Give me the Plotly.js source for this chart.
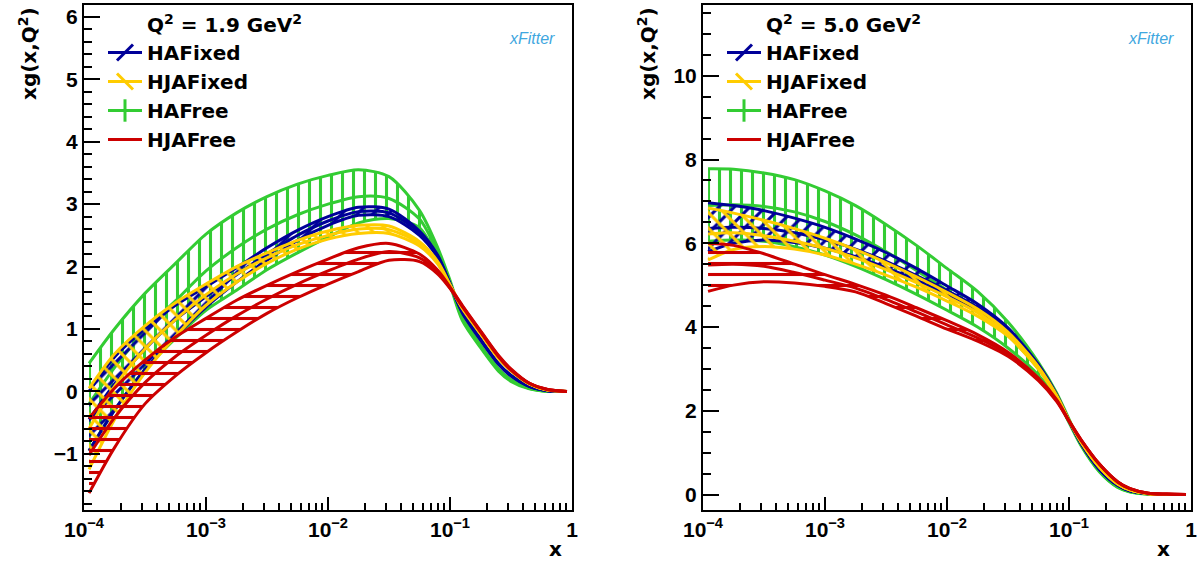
<!DOCTYPE html>
<html><head><meta charset="utf-8">
<script src="https://cdn.plot.ly/plotly-3.0.1.min.js"></script>
<style>html,body{margin:0;padding:0;background:#fff;}#chart{width:1199px;height:561px;}</style>
</head><body><div id="chart"></div>
<script>
// x grid (shared by all curves)
const xGrid = [1.1e-4, 1.78e-4, 3.16e-4, 5.62e-4, 1e-3, 1.78e-3, 3.16e-3, 5.62e-3, 0.01, 0.0178, 0.0316, 0.0562, 0.0794, 0.1, 0.126, 0.178, 0.251, 0.316, 0.447, 0.631, 0.91];

// Q^2 = 1.9 GeV^2
const haFixed19Up  = [0.0, 0.55, 1.0, 1.38, 1.68, 1.98, 2.3, 2.58, 2.8, 2.95, 2.92, 2.57, 2.18, 1.73, 1.28, 0.84, 0.44, 0.26, 0.08, 0.01, 0];
const haFixed19Mid = [-0.45, 0.12, 0.68, 1.15, 1.52, 1.87, 2.2, 2.5, 2.73, 2.88, 2.86, 2.54, 2.16, 1.72, 1.27, 0.83, 0.44, 0.25, 0.08, 0.01, 0];
const haFixed19Lo  = [-0.95, -0.3, 0.35, 0.88, 1.35, 1.75, 2.1, 2.42, 2.66, 2.82, 2.8, 2.5, 2.14, 1.71, 1.26, 0.82, 0.43, 0.25, 0.08, 0.01, 0];
const hjaFixed19Up  = [0.05, 0.6, 1.05, 1.42, 1.72, 2.0, 2.22, 2.42, 2.57, 2.66, 2.65, 2.4, 2.08, 1.71, 1.35, 0.94, 0.54, 0.34, 0.12, 0.02, 0];
const hjaFixed19Mid = [-0.6, 0.08, 0.68, 1.15, 1.55, 1.88, 2.14, 2.35, 2.5, 2.6, 2.59, 2.37, 2.06, 1.7, 1.34, 0.93, 0.53, 0.33, 0.12, 0.02, 0];
const hjaFixed19Lo  = [-1.25, -0.45, 0.3, 0.88, 1.38, 1.75, 2.05, 2.28, 2.44, 2.53, 2.53, 2.33, 2.04, 1.69, 1.33, 0.92, 0.52, 0.33, 0.12, 0.02, 0];
const haFree19Up  = [0.45, 1.0, 1.57, 2.05, 2.52, 2.86, 3.12, 3.32, 3.46, 3.55, 3.44, 2.9, 2.3, 1.78, 1.2, 0.74, 0.36, 0.19, 0.05, 0.01, 0];
const haFree19Mid = [-0.2, 0.38, 0.97, 1.45, 1.93, 2.3, 2.6, 2.83, 3.0, 3.12, 3.09, 2.76, 2.22, 1.74, 1.17, 0.72, 0.34, 0.18, 0.05, 0, 0];
const haFree19Lo  = [-0.95, -0.3, 0.35, 0.85, 1.3, 1.62, 1.95, 2.22, 2.47, 2.7, 2.77, 2.62, 2.14, 1.7, 1.14, 0.7, 0.32, 0.16, 0.04, 0, 0];
const hjaFree19Up  = [-0.43, 0.05, 0.5, 0.87, 1.17, 1.46, 1.7, 1.92, 2.12, 2.3, 2.37, 2.2, 1.94, 1.67, 1.38, 0.97, 0.57, 0.36, 0.13, 0.03, 0];
const hjaFree19Mid = [-1.02, -0.42, 0.14, 0.56, 0.9, 1.21, 1.48, 1.72, 1.93, 2.12, 2.24, 2.14, 1.91, 1.66, 1.37, 0.96, 0.56, 0.35, 0.13, 0.03, 0];
const hjaFree19Lo  = [-1.63, -0.9, -0.2, 0.25, 0.62, 0.95, 1.25, 1.5, 1.72, 1.92, 2.1, 2.08, 1.88, 1.65, 1.36, 0.95, 0.55, 0.34, 0.13, 0.03, 0];

// Q^2 = 5.0 GeV^2
const haFixed50Up  = [6.97, 6.9, 6.78, 6.6, 6.38, 6.1, 5.78, 5.4, 4.98, 4.55, 3.98, 3.1, 2.38, 1.77, 1.22, 0.6, 0.22, 0.09, 0.02, 0, 0];
const haFixed50Mid = [6.35, 6.38, 6.35, 6.25, 6.08, 5.86, 5.57, 5.23, 4.87, 4.47, 3.93, 3.07, 2.36, 1.76, 1.22, 0.6, 0.22, 0.09, 0.02, 0, 0];
const haFixed50Lo  = [5.8, 6.0, 6.08, 6.02, 5.88, 5.68, 5.42, 5.12, 4.77, 4.4, 3.88, 3.04, 2.34, 1.75, 1.21, 0.6, 0.22, 0.09, 0.02, 0, 0];
const hjaFixed50Up  = [6.84, 6.72, 6.55, 6.35, 6.12, 5.85, 5.54, 5.2, 4.83, 4.43, 3.88, 3.05, 2.36, 1.77, 1.25, 0.65, 0.25, 0.11, 0.02, 0, 0];
const hjaFixed50Mid = [6.22, 6.25, 6.18, 6.05, 5.88, 5.65, 5.37, 5.06, 4.72, 4.34, 3.83, 3.02, 2.34, 1.77, 1.25, 0.65, 0.25, 0.11, 0.02, 0, 0];
const hjaFixed50Lo  = [5.6, 5.85, 5.92, 5.86, 5.72, 5.5, 5.24, 4.95, 4.62, 4.26, 3.78, 2.99, 2.32, 1.76, 1.25, 0.65, 0.25, 0.11, 0.02, 0, 0];
const haFree50Up  = [7.78, 7.77, 7.68, 7.52, 7.25, 6.9, 6.45, 5.95, 5.4, 4.85, 4.12, 3.15, 2.42, 1.8, 1.2, 0.56, 0.18, 0.07, 0.01, 0, 0];
const haFree50Mid = [6.9, 6.92, 6.88, 6.75, 6.52, 6.2, 5.8, 5.35, 4.88, 4.4, 3.8, 3.0, 2.35, 1.76, 1.18, 0.55, 0.18, 0.07, 0.01, 0, 0];
const haFree50Lo  = [6.05, 6.08, 6.05, 5.92, 5.72, 5.45, 5.13, 4.78, 4.4, 4.0, 3.5, 2.85, 2.28, 1.72, 1.16, 0.54, 0.17, 0.06, 0.01, 0, 0];
const hjaFree50Up  = [6.0, 5.95, 5.75, 5.5, 5.25, 5.02, 4.76, 4.46, 4.15, 3.82, 3.4, 2.78, 2.26, 1.76, 1.3, 0.72, 0.3, 0.14, 0.03, 0.01, 0];
const hjaFree50Mid = [5.48, 5.5, 5.45, 5.3, 5.12, 4.93, 4.66, 4.36, 4.05, 3.74, 3.35, 2.75, 2.24, 1.76, 1.3, 0.72, 0.3, 0.14, 0.03, 0.01, 0];
const hjaFree50Lo  = [4.85, 5.0, 5.08, 5.05, 4.97, 4.84, 4.56, 4.26, 3.95, 3.66, 3.3, 2.72, 2.22, 1.75, 1.29, 0.72, 0.3, 0.14, 0.03, 0.01, 0];

const seriesNames = ['HAFixed', 'HJAFixed', 'HAFree', 'HJAFree'];
const xTickVals = [1e-4, 1e-3, 1e-2, 1e-1, 1];
const xTickText = ['10<sup>\u22124</sup>', '10<sup>\u22123</sup>', '10<sup>\u22122</sup>', '10<sup>\u22121</sup>', '1'];

const colors = {HAFixed: '#000099', HJAFixed: '#ffcc00', HAFree: '#33cc33', HJAFree: '#cc0000'};
const patterns = {HAFixed: '/', HJAFixed: '\\', HAFree: '|', HJAFree: '-'};
const legendSymbols = {HAFixed: 'line-ne', HJAFixed: 'line-nw', HAFree: 'line-ns', HJAFree: null};
const FONT = 'Liberation Sans, Arial, Helvetica, sans-serif';
const WFONT = 'DejaVu Sans, Liberation Sans, sans-serif';

const panels = [
  {xa: 'x', ya: 'y', legend: 'legend', data: {
    HAFree: [haFree19Up, haFree19Mid, haFree19Lo],
    HAFixed: [haFixed19Up, haFixed19Mid, haFixed19Lo],
    HJAFixed: [hjaFixed19Up, hjaFixed19Mid, hjaFixed19Lo],
    HJAFree: [hjaFree19Up, hjaFree19Mid, hjaFree19Lo]}},
  {xa: 'x2', ya: 'y2', legend: 'legend2', data: {
    HAFree: [haFree50Up, haFree50Mid, haFree50Lo],
    HAFixed: [haFixed50Up, haFixed50Mid, haFixed50Lo],
    HJAFixed: [hjaFixed50Up, hjaFixed50Mid, hjaFixed50Lo],
    HJAFree: [hjaFree50Up, hjaFree50Mid, hjaFree50Lo]}}
];

const traces = [];
const drawOrder = ['HAFree', 'HAFixed', 'HJAFixed', 'HJAFree'];
panels.forEach(p => {
  drawOrder.forEach(name => {
    const c = colors[name];
    const [up, mid, lo] = p.data[name];
    const line = {color: c, width: 3, shape: 'spline', smoothing: 0.8};
    traces.push({x: xGrid, y: lo, xaxis: p.xa, yaxis: p.ya, mode: 'lines', line: line, showlegend: false, hoverinfo: 'skip'});
    traces.push({x: xGrid, y: up, xaxis: p.xa, yaxis: p.ya, mode: 'lines', line: line, showlegend: false, hoverinfo: 'skip',
      fill: 'tonexty', fillcolor: 'rgba(0,0,0,0)',
      fillpattern: {shape: patterns[name], size: 11, solidity: 0.28, fgcolor: c, fgopacity: 1, bgcolor: 'rgba(0,0,0,0)', fillmode: 'overlay'}});
    traces.push({x: xGrid, y: mid, xaxis: p.xa, yaxis: p.ya, mode: 'lines', line: line, showlegend: false, hoverinfo: 'skip'});
  });
});
panels.forEach(p => {
  seriesNames.forEach(name => {
    const c = colors[name];
    const sym = legendSymbols[name];
    traces.push({x: [null], y: [null], xaxis: p.xa, yaxis: p.ya, name: name, legend: p.legend,
      mode: sym ? 'lines+markers' : 'lines', line: {color: c, width: 3},
      marker: {symbol: sym || 'circle', size: 16, color: c, line: {color: c, width: 3}}});
  });
});

const minorX = [];
[1e-4, 1e-3, 1e-2, 1e-1].forEach(d => { for (let k = 2; k <= 9; k++) minorX.push(k * d); });

const W = 1199, H = 561;
const yDom = [1 - 510 / H, 1 - 5 / H];
function xAxis(dom) {
  return {type: 'log', domain: dom, range: [-4, 0], tickmode: 'array', tickvals: xTickVals, ticktext: xTickText,
    ticks: 'inside', ticklen: 13, tickwidth: 2, tickcolor: '#000', showline: true, linewidth: 2, linecolor: '#000',
    mirror: true, showgrid: false, zeroline: false, tickangle: 0,
    tickfont: {family: FONT, size: 21, weight: 'bold', color: '#000'},
    minor: {tickmode: 'array', tickvals: minorX, ticks: 'inside', ticklen: 7, tickwidth: 2, tickcolor: '#000', showgrid: false}};
}
function yAxis(range, dtick, mdtick, anchor) {
  return {domain: yDom, range: range, anchor: anchor, tick0: 0, dtick: dtick, ticks: 'inside', ticklen: 16, tickwidth: 2,
    tickcolor: '#000', showline: true, linewidth: 2, linecolor: '#000', mirror: true, showgrid: false, zeroline: false,
    tickfont: {family: FONT, size: 21, weight: 'bold', color: '#000'}, ticklabelstandoff: 0,
    minor: {tick0: 0, dtick: mdtick, ticks: 'inside', ticklen: 8, tickwidth: 2, tickcolor: '#000', showgrid: false}};
}

const ann = [];
function addText(text, px, py, opts) {
  ann.push(Object.assign({text: text, xref: 'paper', yref: 'paper', x: px / W, y: 1 - py / H, showarrow: false,
    font: {family: WFONT, size: 20, weight: 'bold', color: '#000'}, xanchor: 'left', yanchor: 'middle'}, opts || {}));
}
addText('Q<sup>2</sup> = 1.9 GeV<sup>2</sup>', 145, 24);
addText('Q<sup>2</sup> = 5.0 GeV<sup>2</sup>', 764, 24);
addText('xg(x,Q<sup>2</sup>)', 28, 54, {textangle: -90, xanchor: 'center', yanchor: 'middle'});
addText('xg(x,Q<sup>2</sup>)', 647, 54, {textangle: -90, xanchor: 'center', yanchor: 'middle'});
addText('x', 555, 549, {xanchor: 'center'});
addText('x', 1163, 549, {xanchor: 'center'});
addText('<i>xFitter</i>', 532, 38, {xanchor: 'center', font: {family: FONT, size: 16, color: '#3fa7e0'}});
addText('<i>xFitter</i>', 1151, 38, {xanchor: 'center', font: {family: FONT, size: 16, color: '#3fa7e0'}});

const legendBase = {bgcolor: 'rgba(0,0,0,0)', borderwidth: 0, xanchor: 'left', yanchor: 'top', itemwidth: 34,
  font: {family: WFONT, size: 20, weight: 'bold', color: '#000'}, tracegroupgap: 0, traceorder: 'normal'};

const layout = {
  width: W, height: H, margin: {l: 0, r: 0, t: 0, b: 0}, paper_bgcolor: '#fff', plot_bgcolor: '#fff',
  showlegend: true,
  xaxis: Object.assign(xAxis([84 / W, 572 / W]), {anchor: 'y'}),
  yaxis: yAxis([-1.9, 6.19], 1, 0.2, 'x'),
  xaxis2: Object.assign(xAxis([703 / W, 1191 / W]), {anchor: 'y2'}),
  yaxis2: yAxis([-0.37, 11.69], 2, 0.5, 'x2'),
  legend: Object.assign({}, legendBase, {x: 103 / W, y: 1 - 33 / H}),
  legend2: Object.assign({}, legendBase, {x: 722 / W, y: 1 - 33 / H}),
  annotations: ann
};

Plotly.newPlot('chart', traces, layout, {staticPlot: true, displayModeBar: false});
</script></body></html>
